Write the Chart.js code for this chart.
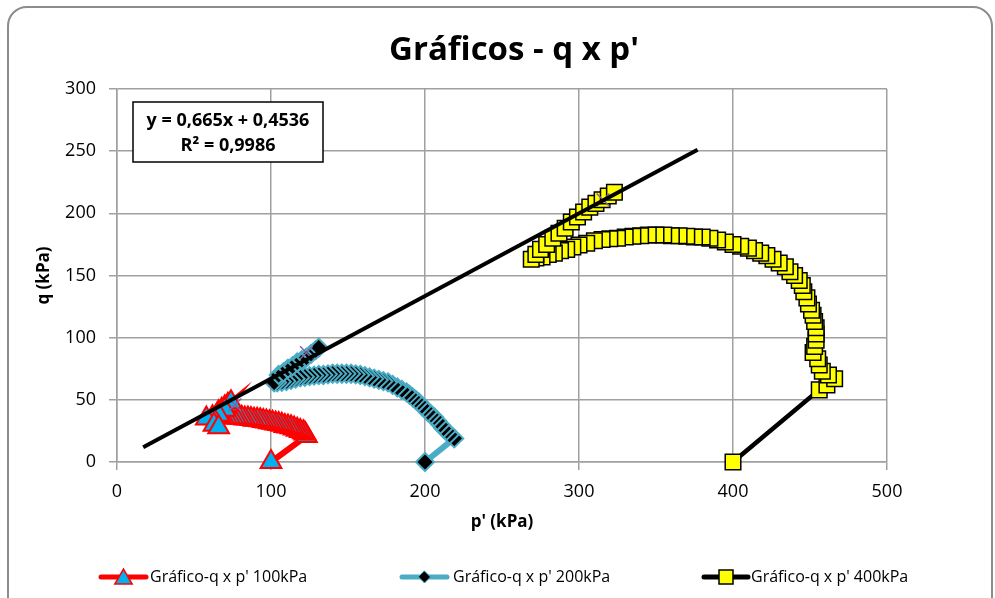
<!DOCTYPE html>
<html>
<head>
<meta charset="utf-8">
<script src="https://cdn.jsdelivr.net/npm/chart.js@4.4.0/dist/chart.umd.min.js"></script>
<style>
  html,body{margin:0;padding:0;background:#fff;}
  #wrap{position:relative;width:995px;height:598px;overflow:hidden;}
  #frame{position:absolute;left:7px;top:6px;right:2px;bottom:-30px;border:2px solid #8c8c8c;border-radius:20px;pointer-events:none;}
</style>
</head>
<body>
<div id="wrap">
  <canvas id="c" width="995" height="598"></canvas>
  <div id="frame"></div>
</div>
<script>
// data (p' and q in kPa)
const p100 = [100,123,122,121,119,117,115,113,111,109,107,105,103,101,99,97,95,93,91,89,87,85,83,81,79,77,75,73,71,69,67,65,66,68,70,72,74,70,66,62,58,63,66];
const q100 = [0,21,23,24,25,26,27,28,28.5,29,30,30.5,31,31.5,32,32.5,33,33.5,34,34,34.5,35,35,35.5,35.5,36,36,36,36,36,37,38,40,42,44,46,48,42,38,36,35,30,28];

const p200 = [200,219,216,214,212,210,208,206,204,202,200,198,196,194,192,190,188,185,182,179,176,173,170,167,164,161,158,155,152,149,146,143,140,137,134,131,128,125,122,119,116,113,110,107,104,102,105,108,111,114,117,120,123,126,129,131];
const q200 = [0,19,22,25,27,30,33,36,38,40,43,45,48,50,52,54,56,58,60,62,64,65,66,67,68,69,70,70.5,71,71,71,71,71,70.5,70,70,69.5,69,68.5,68,67,66,65,64.5,64,64,70,72,75,77,80,82,84,87,90,92];

const p400 = [400,456,461,466,462,458,456,455,452,453,454,454,454,453,452,451,449,448,446,445,443,440,437,434,430,426,422,418,414,410,405,400,395,390,385,380,375,370,365,360,355,350,345,340,335,330,325,320,315,310,305,300,296,292,288,284,280,276,272,269,272,275,279,283,287,291,295,299,303,307,311,315,319,323];
const q400 = [0,58,62,67,70,73,78,83,88,93,98,103,108,113,118,122,127,132,137,142,146,150,153,157,160,163,166,168,170,172,173.5,175,177,178.5,180,181,181,181.5,182,182,182.5,182.5,182.5,182,181.5,181,180,179.5,179,178,176,174.5,173,171,170,168,167,165,164,163,167,171,175,180,184,188,193,197,201,205,208,211,214,217];

// linear trend y = 0,665x + 0,4536 (end points)
const trendP = [17, 377];
const trendQ = [11.8, 251.1];
// peak points used for the fit
const peakP = [76.6, 123, 315.6];
const peakQ = [46, 88, 210.8];

const xTicks = [0,100,200,300,400,500];
const yTicks = [0,50,100,150,200,250,300];

const seriesNames = ["Gráfico-q x p' 100kPa","Gráfico-q x p' 200kPa","Gráfico-q x p' 400kPa"];
const eqLines = ['y = 0,665x + 0,4536','R² = 0,9986'];

const FONT = "'Open Sans', 'Noto Sans', sans-serif";
const pts = (xs, ys) => xs.map((x,i)=>({x, y: ys[i]}));

function marker(ctx, style, x, y, r, fill, stroke, lw){
  ctx.save();
  ctx.beginPath();
  if(style==='triangle'){
    ctx.moveTo(x, y - r);
    ctx.lineTo(x + r*0.866, y + r*0.5);
    ctx.lineTo(x - r*0.866, y + r*0.5);
    ctx.closePath();
  }else if(style==='diamond'){
    ctx.moveTo(x, y - r); ctx.lineTo(x + r, y); ctx.lineTo(x, y + r); ctx.lineTo(x - r, y); ctx.closePath();
  }else{
    ctx.rect(x - r, y - r, 2*r, 2*r);
  }
  ctx.fillStyle = fill; ctx.fill();
  ctx.lineWidth = lw; ctx.strokeStyle = stroke; ctx.stroke();
  ctx.restore();
}

const extras = {
  id: 'extras',
  afterDraw(chart){
    const ctx = chart.ctx;
    ctx.save();
    // title
    ctx.fillStyle = '#000';
    ctx.font = "bold 33px " + FONT;
    ctx.textAlign = 'center';
    ctx.textBaseline = 'alphabetic';
    ctx.fillText("Gráficos - q x p'", 514, 60);
    // equation box
    ctx.fillStyle = '#fff';
    ctx.fillRect(133, 102, 190, 60);
    ctx.strokeStyle = '#000'; ctx.lineWidth = 1.5;
    ctx.strokeRect(133, 102, 190, 60);
    ctx.fillStyle = '#000';
    ctx.font = "bold 18px " + FONT;
    ctx.textBaseline = 'middle';
    ctx.fillText(eqLines[0], 228, 121);
    ctx.fillText(eqLines[1], 228, 146);
    // legend
    const items = [
      {x0:101, x1:146, col:'#FF0000', lw:5, style:'triangle', r:10, fill:'#00B0F0', stroke:'#FF0000', mlw:1.5, tx:150},
      {x0:402, x1:447, col:'#4BACC6', lw:5, style:'diamond', r:6, fill:'#000', stroke:'#4BACC6', mlw:1, tx:453},
      {x0:704, x1:748, col:'#000', lw:5, style:'square', r:7, fill:'#FFFF00', stroke:'#000', mlw:1.5, tx:751}
    ];
    const ly = 577;
    ctx.font = "16px " + FONT;
    ctx.textAlign = 'left';
    items.forEach((it,i)=>{
      ctx.beginPath(); ctx.moveTo(it.x0, ly); ctx.lineTo(it.x1, ly);
      ctx.strokeStyle = it.col; ctx.lineWidth = it.lw; ctx.lineCap = 'round'; ctx.stroke();
      marker(ctx, it.style, (it.x0+it.x1)/2, ly + (it.style==='triangle'?2:0), it.r, it.fill, it.stroke, it.mlw);
      ctx.fillStyle = '#000';
      ctx.fillText(seriesNames[i], it.tx, ly);
    });
    ctx.restore();
  }
};

const gridOpts = {color:'#a0a0a0', lineWidth:1.5, tickLength:8};

new Chart(document.getElementById('c'), {
  type: 'scatter',
  data: {
    datasets: [
      {label:'trend', data: pts(trendP, trendQ), showLine:true, borderColor:'#000', borderWidth:4, pointRadius:0, order:0, clip:false},
      {label:'peaks', data: pts(peakP, peakQ), showLine:false, pointStyle:'crossRot', pointRadius:9, borderColor:'#8064A2', borderWidth:1.5, order:1, clip:false},
      {label:seriesNames[0], data: pts(p100, q100), showLine:true, borderColor:'#FF0000', borderWidth:6, clip:false,
        pointStyle:'triangle', pointRadius:12, pointBackgroundColor:'#00B0F0', pointBorderColor:'#FF0000', pointBorderWidth:2, order:2},
      {label:seriesNames[1], data: pts(p200, q200), showLine:true, borderColor:'#4BACC6', borderWidth:6, clip:false,
        pointStyle:'rectRot', pointRadius:9, pointBackgroundColor:'#000', pointBorderColor:'#4BACC6', pointBorderWidth:2, order:3},
      {label:seriesNames[2], data: pts(p400, q400), showLine:true, borderColor:'#000', borderWidth:4.5, clip:false,
        pointStyle:'rect', pointRadius:11, pointBackgroundColor:'#FFFF00', pointBorderColor:'#000', pointBorderWidth:1.5, order:4}
    ]
  },
  options: {
    responsive: false,
    animation: false,
    layout: {padding: {left:30, right:108, top:89, bottom:66}},
    plugins: {legend:{display:false}, tooltip:{enabled:false}, title:{display:false}},
    scales: {
      x: {
        min: 0, max: 500,
        afterFit: s => { s.height = 70; },
        afterBuildTicks: s => { s.ticks = xTicks.map(v=>({value:v})); },
        grid: gridOpts,
        border: {color:'#a0a0a0', width:1.5},
        ticks: {color:'#000', font:{family:FONT, size:18}, padding:11, maxRotation:0},
        title: {display:true, text:"p' (kPa)", color:'#000', font:{family:FONT, size:17, weight:'bold'}, padding:{top:0, bottom:0}}
      },
      y: {
        min: 0, max: 300,
        afterFit: s => { s.width = 87; },
        afterBuildTicks: s => { s.ticks = yTicks.map(v=>({value:v})); },
        grid: gridOpts,
        border: {color:'#a0a0a0', width:1.5},
        ticks: {color:'#000', font:{family:FONT, size:18}, padding:13},
        title: {display:true, text:'q (kPa)', color:'#000', font:{family:FONT, size:17, weight:'bold'}, padding:{top:4, bottom:0}}
      }
    }
  },
  plugins: [extras]
});
</script>
</body>
</html>
